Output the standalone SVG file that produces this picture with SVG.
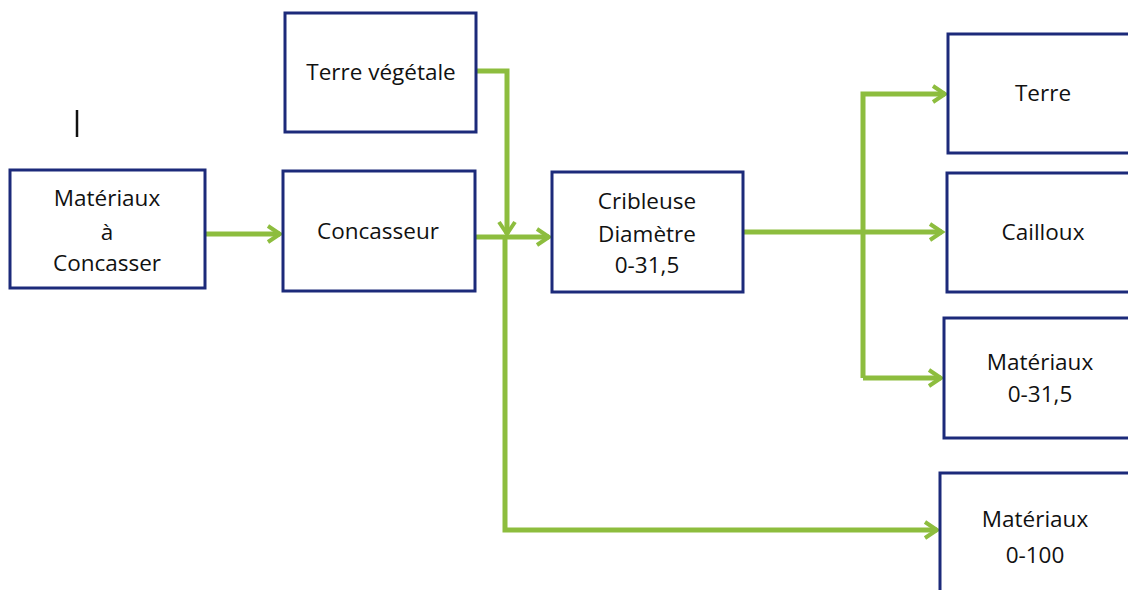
<svg xmlns="http://www.w3.org/2000/svg" width="1128" height="590" viewBox="0 0 1128 590">
<style>
.box{fill:#fff;stroke:#1c2a7a;stroke-width:3}
.t{font-family:"Open Sans","Liberation Sans",sans-serif;font-size:22.5px;fill:#111;text-anchor:middle}
.c{fill:none;stroke:#8dbd3e;stroke-width:5;stroke-linejoin:miter}
</style>
<defs>
<marker id="ah" viewBox="0 0 10 10" refX="8" refY="5" markerWidth="4" markerHeight="4" markerUnits="strokeWidth" orient="auto">
<polyline points="2,1 8,5 2,9" fill="none" stroke="#8dbd3e" stroke-width="2"/>
</marker>
</defs>
<rect width="1128" height="590" fill="#fff"/>
<line x1="77" y1="110" x2="77" y2="137" stroke="#111" stroke-width="2.5"/>
<g id="connectors">
<path class="c" d="M205,234 H280" marker-end="url(#ah)"/>
<path class="c" d="M476,71 H507 V234" marker-end="url(#ah)"/>
<path class="c" d="M475,237 H549" marker-end="url(#ah)"/>
<path class="c" d="M505,237 V530 H937" marker-end="url(#ah)"/>
<path class="c" d="M743,232 H942" marker-end="url(#ah)"/>
<path class="c" d="M863,378 V94 H945" marker-end="url(#ah)"/>
<path class="c" d="M863,378 H941" marker-end="url(#ah)"/>
</g>
<g id="n-materiaux-concasser"><rect class="box" x="10" y="170" width="195" height="118"/>
<text class="t" x="107" y="206">Matériaux</text><text class="t" x="107" y="240">à</text><text class="t" x="107" y="271">Concasser</text></g>
<g id="n-terre-vegetale"><rect class="box" x="285" y="13" width="191" height="119"/>
<text class="t" x="381" y="80">Terre végétale</text></g>
<g id="n-concasseur"><rect class="box" x="283" y="171" width="192" height="120"/>
<text class="t" x="378" y="239">Concasseur</text></g>
<g id="n-cribleuse"><rect class="box" x="552" y="172" width="191" height="120"/>
<text class="t" x="647" y="209">Cribleuse</text><text class="t" x="647" y="242">Diamètre</text><text class="t" x="647" y="273">0-31,5</text></g>
<g id="n-terre"><rect class="box" x="948" y="34" width="190" height="119"/>
<text class="t" x="1043" y="101">Terre</text></g>
<g id="n-cailloux"><rect class="box" x="947" y="173" width="190" height="119"/>
<text class="t" x="1043" y="240">Cailloux</text></g>
<g id="n-materiaux-0-31"><rect class="box" x="944" y="318" width="194" height="120"/>
<text class="t" x="1040" y="370">Matériaux</text><text class="t" x="1040" y="402">0-31,5</text></g>
<g id="n-materiaux-0-100"><rect class="box" x="940" y="473" width="198" height="130"/>
<text class="t" x="1035" y="527">Matériaux</text><text class="t" x="1035" y="563">0-100</text></g>
</svg>
